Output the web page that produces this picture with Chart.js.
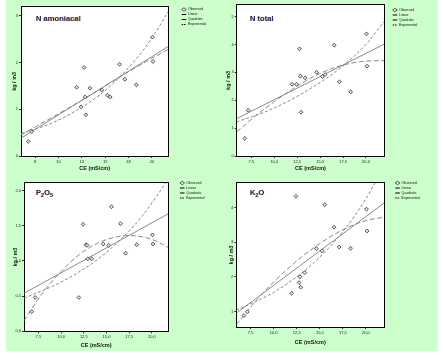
<!DOCTYPE html>
<html><head><meta charset="utf-8">
<script src="https://cdn.jsdelivr.net/npm/chart.js@4.4.0/dist/chart.umd.min.js"></script>
<style>
html,body{margin:0;padding:0;background:#fff;width:443px;height:358px;overflow:hidden;}
#bg{position:absolute;left:6px;top:0;width:432px;height:351px;background:#ccffcc;}
canvas{position:absolute;}
.ttl{position:absolute;font:bold 7.6px "Liberation Sans",Arial,sans-serif;color:#1f2a6e;line-height:8px;white-space:nowrap;text-shadow:-0.6px 0 0 rgba(225,140,40,0.75);}
.ttl sub{font-size:5.5px;vertical-align:-1.5px;line-height:0;}
</style></head><body>
<div id="bg"></div>
<canvas id="c1" style="left:0px;top:0px;width:221px;height:178px" width="221" height="178"></canvas>
<canvas id="c2" style="left:221px;top:0px;width:222px;height:178px" width="222" height="178"></canvas>
<canvas id="c3" style="left:0px;top:178px;width:221px;height:180px" width="221" height="180"></canvas>
<canvas id="c4" style="left:221px;top:178px;width:222px;height:180px" width="222" height="180"></canvas>
<div class="ttl" style="left:36px;top:15px">N amoniacal</div>
<div class="ttl" style="left:250px;top:15px">N total</div>
<div class="ttl" style="left:36px;top:189px">P<sub>2</sub>O<sub>5</sub></div>
<div class="ttl" style="left:250px;top:189px">K<sub>2</sub>O</div>
<script>
// ---- data ----
const ceValues   = [6.78, 7.15, 11.95, 12.42, 12.75, 12.85, 12.93, 13.37, 14.63, 15.24, 15.54, 16.54, 17.10, 18.33, 20.06, 20.12];
const nAmoniacal = [0.31, 0.52, 1.47, 1.05, 1.89, 1.26, 0.88, 1.45, 1.41, 1.30, 1.26, 1.96, 1.64, 1.52, 2.54, 2.02];
const nTotal     = [0.63, 1.64, 2.57, 2.57, 3.84, 2.86, 1.57, 2.80, 3.00, 2.85, 2.92, 3.97, 2.66, 2.30, 4.38, 3.22];
const p2o5       = [0.28, 0.48, 0.48, 1.52, 1.23, 1.22, 1.03, 1.03, 1.24, 1.22, 1.77, 1.53, 1.11, 1.23, 1.37, 1.24];
const k2o        = [0.88, 0.99, 1.52, 4.32, 1.83, 2.00, 1.70, 2.12, 2.81, 2.75, 4.08, 3.43, 2.86, 2.82, 3.95, 3.32];

// fitted curves, points: [CE, value]
const nAmoLinear = [[6.0, 0.38], [21.75, 2.34]];
const nAmoQuad   = [[6.0, 0.45], [10, 0.90], [14, 1.37], [18, 1.86], [21.75, 2.28]];
const nAmoExp    = [[6.0, 0.48], [9, 0.68], [12, 0.98], [15, 1.40], [18, 2.00], [20, 2.52], [21.75, 3.09]];
const nTotLinear = [[5.9, 1.34], [22.0, 4.01]];
const nTotQuad   = [[5.9, 0.87], [8, 1.45], [10, 1.95], [12, 2.40], [14, 2.80], [16, 3.10], [18, 3.30], [20, 3.40], [22.0, 3.42]];
const nTotExp    = [[5.9, 1.22], [10, 1.72], [14, 2.43], [17, 3.10], [20, 4.00], [22.0, 4.82]];
const pLinear    = [[5.92, 0.54], [21.8, 1.67]];
const pQuad      = [[5.92, 0.15], [8, 0.55], [10, 0.85], [12, 1.09], [14, 1.25], [16, 1.34], [17.5, 1.36], [19, 1.34], [20.5, 1.28], [21.8, 1.19]];
const pExp       = [[5.92, 0.47], [10, 0.70], [14, 1.02], [17, 1.36], [19, 1.65], [21.8, 2.16]];
const kLinear    = [[5.95, 0.95], [21.99, 4.13]];
const kQuad      = [[5.95, 0.62], [8, 1.28], [10, 1.85], [12, 2.34], [14, 2.77], [16, 3.13], [18, 3.42], [20, 3.62], [21.99, 3.72]];
const kExp       = [[5.95, 1.03], [10, 1.55], [14, 2.32], [17.5, 3.30], [20, 4.25], [21.99, 5.20]];

// ticks
const xTickValues   = [7.5, 10, 12.5, 15, 17.5, 20];
const xLabelsInt    = ['8', '10', '13', '15', '18', '20'];
const xLabelsDec    = ['7,5', '10,0', '12,5', '15,0', '17,5', '20,0'];
const yTicksNAmo    = [0, 1, 2, 3];
const yLabelsNAmo   = ['0', '1', '2', '3'];
const yTicksNTot    = [0, 1, 2, 3, 4, 5];
const yLabelsNTot   = ['0', '1', '2', '3', '4', '5'];
const yTicksP       = [0, 0.5, 1, 1.5, 2];
const yLabelsP      = ['0,0', '0,5', '1,0', '1,5', '2,0'];
const yTicksK       = [1, 2, 3, 4];
const yLabelsK      = ['1', '2', '3', '4'];
const legendNames   = ['Observed', 'Linear', 'Quadratic', 'Exponential'];
const xTitle = 'CE (mS/cm)';
const yTitle = 'kg / m3';

// ---- drawing ----
const FONT = '"Liberation Sans", Arial, sans-serif';
const whiteArea = {
  id: 'whiteArea',
  beforeDraw(chart) {
    const {ctx, chartArea: a} = chart;
    ctx.save(); ctx.fillStyle = '#ffffff';
    ctx.fillRect(a.left, a.top, a.right - a.left, a.bottom - a.top);
    ctx.restore();
  }
};
const pts = arr => arr.map(([x, y]) => ({x, y}));

function makePanel(id, c) {
  const lineBase = {type: 'line', xAxisID: 'x', yAxisID: 'y', borderColor: '#7d7d7d', borderWidth: 0.9,
                    pointRadius: 0, fill: false, order: 1, cubicInterpolationMode: 'monotone'};
  return new Chart(document.getElementById(id), {
    type: 'scatter',
    data: {datasets: [
      {label: legendNames[0], xAxisID: 'x', yAxisID: 'y', order: 0,
       data: c.obs.map((y, i) => ({x: ceValues[i], y})),
       pointStyle: 'rectRot', pointRadius: 1.9, borderColor: '#2a2a2a', backgroundColor: '#e8e8e8', borderWidth: 0.8},
      Object.assign({}, lineBase, {label: legendNames[1], data: pts(c.lin)}),
      Object.assign({}, lineBase, {label: legendNames[2], data: pts(c.quad), borderDash: [5, 2.5]}),
      Object.assign({}, lineBase, {label: legendNames[3], data: pts(c.exp), borderDash: [3, 2]})
    ]},
    plugins: [whiteArea],
    options: {
      responsive: false, animation: false, devicePixelRatio: 1,
      layout: {padding: {left: 0, top: c.padTop, right: c.padRight, bottom: 0}},
      plugins: {
        tooltip: {enabled: false},
        legend: {
          position: 'right', align: 'start', fullSize: true, maxWidth: 30,
          title: {display: c.legTitle > 0, text: '', font: {size: 1, lineHeight: 1},
                  padding: {top: Math.max(c.legTitle - 1, 0), bottom: 0}},
          labels: {
            usePointStyle: true, pointStyleWidth: 4.5, boxHeight: 2.4, padding: 1.5,
            font: {size: 3.5, family: FONT}, color: '#111',
            generateLabels: () => legendNames.map((t, i) => ({
              text: t, pointStyle: i === 0 ? 'rectRot' : 'line', fillStyle: '#ffffff',
              strokeStyle: '#000', lineWidth: i === 0 ? 0.7 : 1.2,
              lineDash: i === 3 ? [1.5, 0.8] : [], fontColor: '#111', hidden: false, datasetIndex: i
            }))
          }
        }
      },
      scales: {
        x: {
          type: 'linear', position: 'bottom', min: c.xMin, max: c.xMax, bounds: 'data',
          afterBuildTicks: s => { s.ticks = xTickValues.map(v => ({value: v})); },
          afterFit: s => { s.height = c.xH; },
          ticks: {autoSkip: false, maxRotation: 0, padding: 1, color: '#222',
                  font: {size: 4, family: FONT}, callback: (v, i) => c.xLabels[i]},
          grid: {drawOnChartArea: false, drawTicks: true, tickLength: 2, tickColor: '#000', tickWidth: 0.8},
          border: {color: '#000', width: 1},
          title: {display: true, text: xTitle, color: '#111', font: {size: 5.5, weight: 'bold', family: FONT},
                  padding: {top: 0, bottom: c.xTitlePad}}
        },
        y: {
          type: 'linear', position: 'left', min: c.yMin, max: c.yMax, bounds: 'data',
          afterBuildTicks: s => { s.ticks = c.yTicks.map(v => ({value: v})); },
          afterFit: s => { s.width = c.yW; },
          ticks: {autoSkip: false, padding: 1, color: '#222', font: {size: 4, family: FONT},
                  callback: (v, i) => c.yLabels[i]},
          grid: {drawOnChartArea: false, drawTicks: true, tickLength: 2, tickColor: '#000', tickWidth: 0.8},
          border: {color: '#000', width: 1},
          title: {display: true, text: yTitle, color: '#111', font: {size: 5.5, weight: 'bold', family: FONT},
                  padding: {top: c.yTitlePad, bottom: 0}}
        },
        x2: {
          type: 'linear', axis: 'x', position: 'top', display: true,
          ticks: {display: false}, grid: {drawOnChartArea: false, drawTicks: false},
          border: {color: '#000', width: 1}, afterFit: s => { s.height = c.x2H; }
        },
        y2: {
          type: 'linear', axis: 'y', position: 'right', display: true,
          ticks: {display: false}, grid: {drawOnChartArea: false, drawTicks: false},
          border: {color: '#000', width: 1}, afterFit: s => { s.width = c.gap; }
        }
      }
    }
  });
}

makePanel('c1', {obs: nAmoniacal, lin: nAmoLinear, quad: nAmoQuad, exp: nAmoExp,
  xMin: 6.0, xMax: 21.75, yMin: 0, yMax: 3.19, yTicks: yTicksNAmo, yLabels: yLabelsNAmo, xLabels: xLabelsInt,
  yW: 21, xH: 22, padTop: 6.25, x2H: 0.45, legTitle: 0, gap: 11.9, padRight: 10.8, yTitlePad: 10.7, xTitlePad: 6.7});
makePanel('c2', {obs: nTotal, lin: nTotLinear, quad: nTotQuad, exp: nTotExp,
  xMin: 5.9, xMax: 22.0, yMin: 0, yMax: 5.42, yTicks: yTicksNTot, yLabels: yLabelsNTot, xLabels: xLabelsDec,
  yW: 15.7, xH: 22, padTop: 4, x2H: 0, legTitle: 2.75, gap: 6.9, padRight: 21.8, yTitlePad: 3.7, xTitlePad: 6.7});
makePanel('c3', {obs: p2o5, lin: pLinear, quad: pQuad, exp: pExp,
  xMin: 5.92, xMax: 21.8, yMin: 0, yMax: 2.11, yTicks: yTicksP, yLabels: yLabelsP, xLabels: xLabelsDec,
  yW: 24, xH: 26.7, padTop: 1.75, x2H: 2.25, legTitle: 0, gap: 10.2, padRight: 12.5, yTitlePad: 11.7, xTitlePad: 9});
makePanel('c4', {obs: k2o, lin: kLinear, quad: kQuad, exp: kExp,
  xMin: 5.95, xMax: 21.99, yMin: 0.55, yMax: 4.71, yTicks: yTicksK, yLabels: yLabelsK, xLabels: xLabelsDec,
  yW: 15.3, xH: 31, padTop: 1.75, x2H: 2.25, legTitle: 0, gap: 9.5, padRight: 19.2, yTitlePad: 6.7, xTitlePad: 12.4});
</script>
</body></html>
